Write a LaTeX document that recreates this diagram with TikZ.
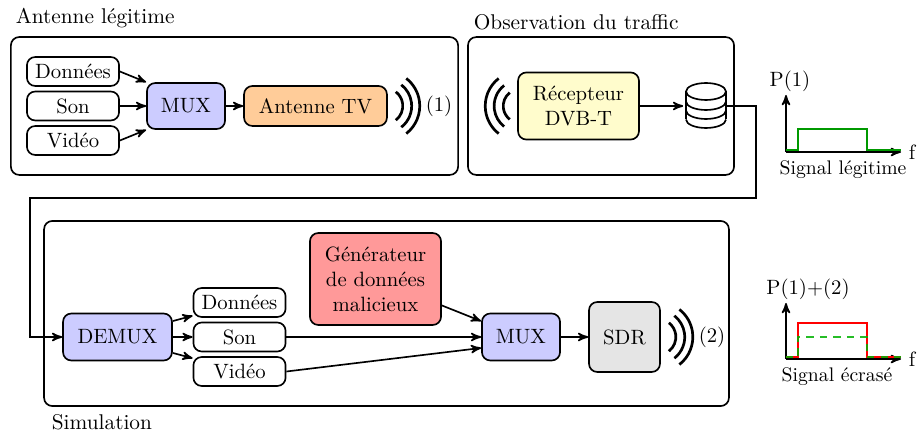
\documentclass[tikz,border=0pt]{standalone}
\usetikzlibrary{arrows,calc}
\tikzset{
  frame/.style={draw,thick,rounded corners=4pt},
  stream/.style={draw,thick,rounded corners=4pt,minimum width=44.5pt,minimum height=14pt,inner sep=0pt},
  block/.style={draw,thick,rounded corners=4pt,inner sep=0pt,align=center},
  title/.style={anchor=west,inner sep=0pt,scale=1.03},
  caption/.style={scale=.95},
  wave/.style={line width=1.3pt},
  spectrum/.style={line width=1pt},
}
\begin{document}
\begin{tikzpicture}[x=.483pt,y=.483pt,>=stealth',thick]
  \useasboundingbox (0,0) rectangle (917,434);
  % legitimate antenna
  \node[frame,minimum width=216pt,minimum height=66.6pt] (box1) at (234.5,328) {};
  \node[title] (title1) at (15,416) {Antenne légitime};
  \node[stream] (don1) at (73,362.5) {Données};
  \node[stream] (son1) at (73,328) {Son};
  \node[stream] (vid1) at (73,293.5) {Vidéo};
  \node[block,fill=blue!20,minimum width=37.7pt,minimum height=22.2pt] (mux1) at (186,328) {MUX};
  \node[block,fill=orange!40,minimum width=69pt,minimum height=19.3pt] (tv) at (315.5,328) {Antenne TV};
  \node (lab1) at (439,328) {(1)};
  \draw[->] (don1.east) -- (mux1.north west);
  \draw[->] (son1.east) -- (mux1.west);
  \draw[->] (vid1.east) -- (mux1.south west);
  \draw[->] (mux1) -- (tv);
  \foreach \r in {8.7pt,13pt,16.9pt}
    \draw[wave] ($(tv.east)+(-3,0)$) ++(-52:\r) arc[start angle=-52,end angle=52,radius=\r];
  % observation
  \node[frame,minimum width=128.5pt,minimum height=66.6pt] (box2) at (601,328) {};
  \node[title] (title2) at (473,412) {Observation du traffic};
  \node[block,fill=yellow!20,minimum width=58.4pt,minimum height=32.4pt] (rx) at (578.5,328) {Récepteur\\DVB-T};
  \foreach \r in {8.2pt,12.6pt,16.9pt}
    \draw[wave] ($(rx.west)+(3,0)$) ++(128:\r) arc[start angle=128,end angle=232,radius=\r];
  \node[minimum width=19.3pt,minimum height=21.7pt,inner sep=0pt] (db) at (706,328) {};
  \draw[thick] (686,342.5) arc[start angle=180,end angle=-180,x radius=9.65pt,y radius=4.1pt];
  \draw[thick] (686,342.5) -- (686,314.5);
  \draw[thick] (726,342.5) -- (726,314.5);
  \foreach \y in {332.5,323.5,314.5}
    \draw[thick] (686,\y) arc[start angle=180,end angle=360,x radius=9.65pt,y radius=4.1pt];
  \coordinate (bend1) at (756,236);
  \coordinate (bend2) at (30,236);
  % simulation
  \node[frame,minimum width=330.8pt,minimum height=89.4pt] (box3) at (386.5,120.5) {};
  \node[title] (title3) at (51,12) {Simulation};
  \node[block,fill=blue!20,minimum width=52.6pt,minimum height=22.7pt] (demux) at (117.5,97) {DEMUX};
  \node[stream] (don2) at (239.5,131.5) {Données};
  \node[stream] (son2) at (239.5,97) {Son};
  \node[stream] (vid2) at (239.5,62.5) {Vidéo};
  \node[block,fill=red!40,minimum width=63.3pt,minimum height=44.4pt] (gen) at (375.5,155) {Générateur\\de données\\malicieux};
  \node[block,fill=blue!20,minimum width=37.7pt,minimum height=22.7pt] (mux2) at (521,97) {MUX};
  \node[block,fill=black!10,minimum width=34.3pt,minimum height=33.8pt] (sdr) at (624.5,97) {SDR};
  \node (lab2) at (712,97) {(2)};
  \foreach \r in {8.7pt,13pt,16.9pt}
    \draw[wave] ($(sdr.east)+(-3,0)$) ++(-52:\r) arc[start angle=-52,end angle=52,radius=\r];
  \draw[->] ([yshift=7.7pt]demux.east) -- ([yshift=1pt]don2.south west);
  \draw[->] (demux) -- (son2);
  \draw[->] ([yshift=-7.7pt]demux.east) -- ([yshift=-1pt]vid2.north west);
  \draw[->] (gen) -- (mux2);
  \draw[->] (son2) -- (mux2);
  \draw[->] (vid2.east) -- ([yshift=-5.3pt]mux2.west);
  \draw[->] (mux2) -- (sdr);
  \draw[->,shorten >=1pt] (rx) -- (db);
  \draw[->] (db.east) -| (bend1) -- (bend2) |- (demux.west);
  % spectra
  \coordinate (o1) at (786,282);
  \node (ylab1) at (790,353) {P(1)};
  \node (flab1) at (912,282) {f};
  \node[caption] (cap1) at (843,264) {Signal légitime};
  \draw[->] (o1) -- (786,339);
  \draw[->] (o1) -- (901,282);
  \draw[spectrum,green!60!black] (786,284) -- (798,284) -- (798,305) -- (867,305) -- (867,284) -- (901,284);
  \coordinate (o2) at (786,75);
  \node (ylab2) at (808,145) {P(1)+(2)};
  \node (flab2) at (912,75) {f};
  \node[caption] (cap2) at (837,57) {Signal écrasé};
  \draw[->] (o2) -- (786,131);
  \draw[->] (o2) -- (901,75);
  \draw[spectrum,red] (786,77) -- (798,77) -- (798,111) -- (867,111) -- (867,77) -- (901,77);
  \draw[spectrum,green!70!black,dash pattern=on 3.5pt off 3pt,opacity=.85] (786,77) -- (798,77) -- (798,97) -- (867,97) -- (867,77) -- (901,77);
\end{tikzpicture}
\end{document}
